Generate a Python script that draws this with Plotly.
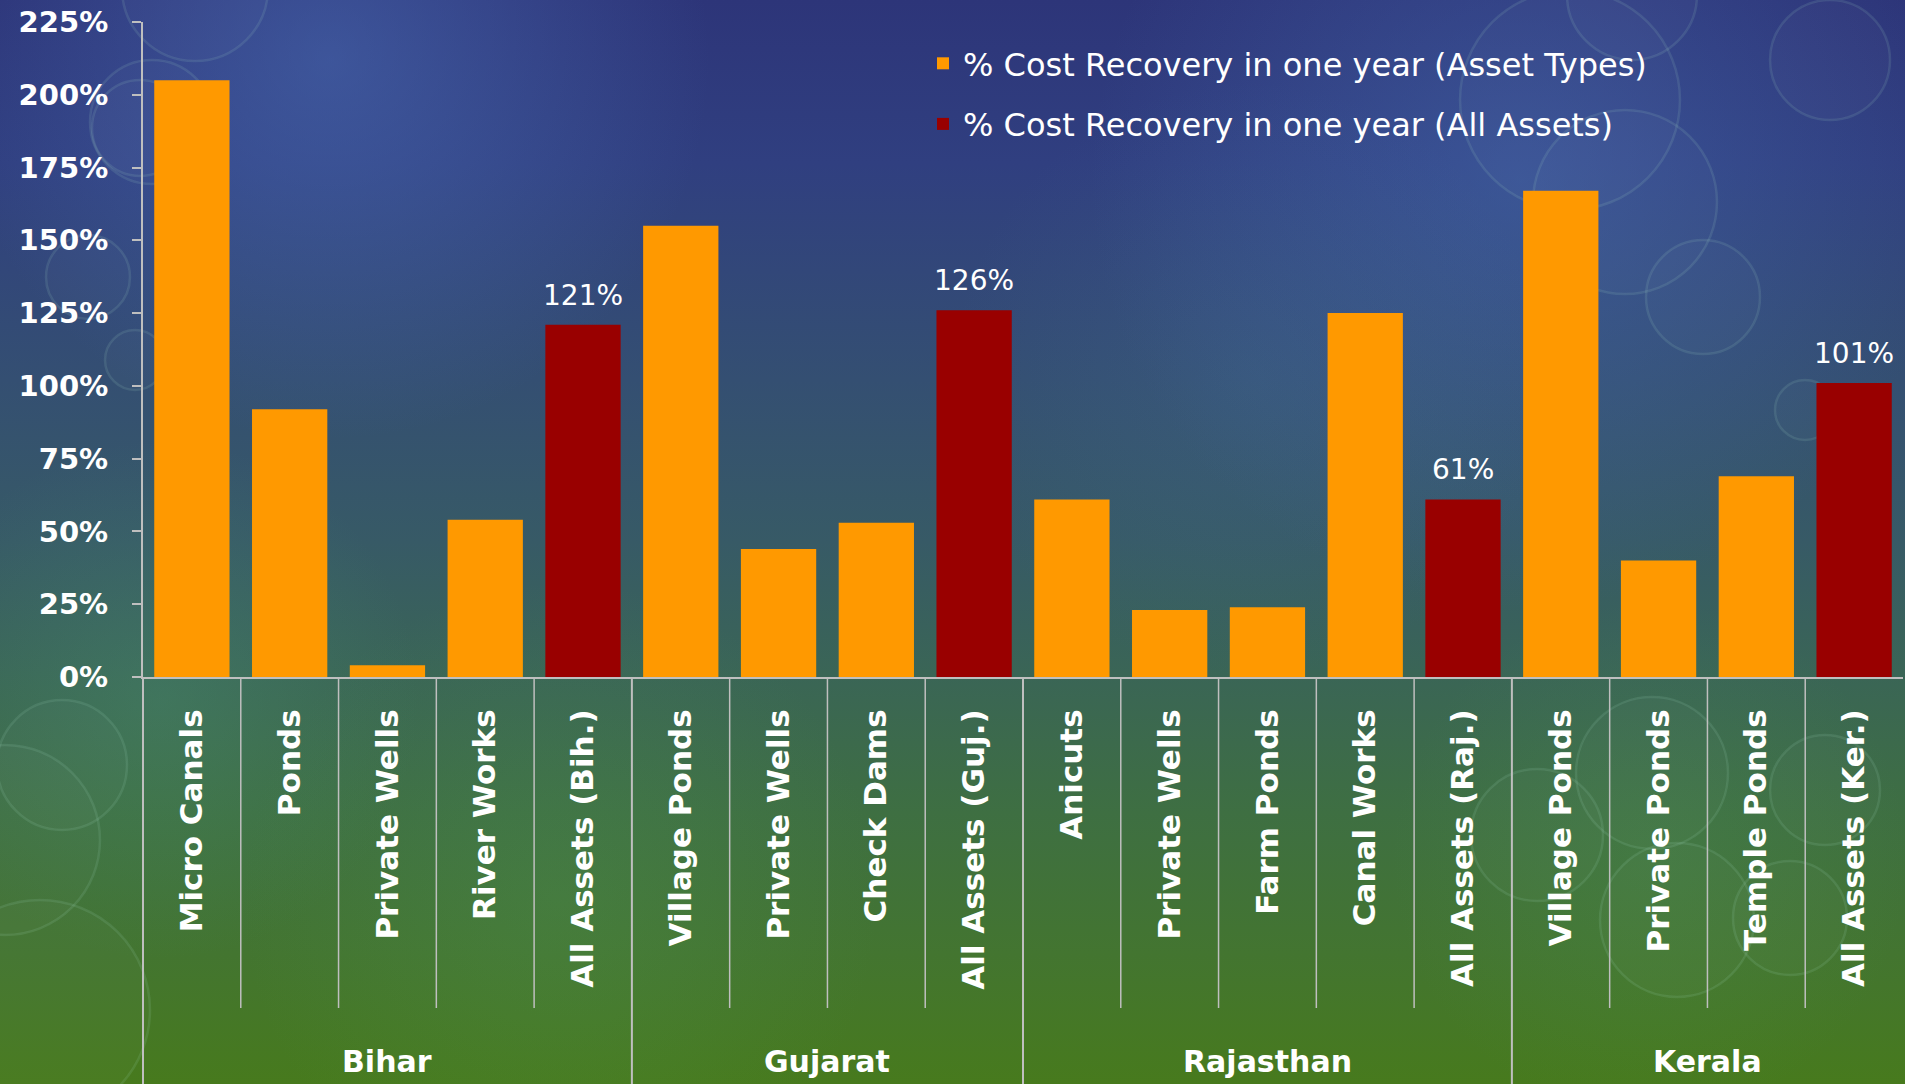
import base64
import plotly.graph_objects as go

# ---- data -------------------------------------------------------------
asset_labels = [
    "Micro Canals", "Ponds", "Private Wells", "River Works", "All Assets (Bih.)",
    "Village Ponds", "Private Wells", "Check Dams", "All Assets (Guj.)",
    "Anicuts", "Private Wells", "Farm Ponds", "Canal Works", "All Assets (Raj.)",
    "Village Ponds", "Private Ponds", "Temple Ponds", "All Assets (Ker.)",
]
state_names = ["Bihar", "Gujarat", "Rajasthan", "Kerala"]
state_sizes = [5, 4, 5, 4]
recovery_pct = [205, 92, 4, 54, 121, 155, 44, 53, 126, 61, 23, 24, 125, 61, 167, 40, 69, 101]
y_ticks = [0, 25, 50, 75, 100, 125, 150, 175, 200, 225]

series_asset = "% Cost Recovery in one year (Asset Types)"
series_all = "% Cost Recovery in one year (All Assets)"

# ---- geometry ---------------------------------------------------------
W, H = 1905, 1084
ML, MR, MT, MB = 143, 2, 22, 407
PW, PH = W - ML - MR, H - MT - MB

ORANGE = "#FF9900"
DARK_RED = "#990000"
AXIS = "#BFBFBF"
FONT = "DejaVu Sans"

idx = list(range(len(asset_labels)))
is_all = [lab.startswith("All Assets") for lab in asset_labels]
x_asset = [i for i in idx if not is_all[i]]
y_asset = [recovery_pct[i] for i in x_asset]
x_all = [i for i in idx if is_all[i]]
y_all = [recovery_pct[i] for i in x_all]

x_min, x_max = -0.5, len(asset_labels) - 0.5


def px_to_paper_y(py):
    return 1 - (py - MT) / PH


def x_to_paper(xv):
    return (xv - x_min) / (x_max - x_min)


# ---- background artwork (gradient, glows, soft rings) -----------------
rings = [
    (195, -12, 73), (140, 128, 48), (152, 122, 62), (88, 277, 42), (135, 360, 30),
    (62, 765, 65), (5, 840, 95), (40, 1010, 110),
    (1632, -5, 65), (1570, 100, 110), (1625, 202, 92), (1703, 297, 57),
    (1830, 60, 60), (1805, 410, 30),
    (1652, 773, 76), (1677, 920, 77), (1537, 835, 66), (1790, 918, 57), (1825, 790, 55),
]
ring_svg = "".join(
    f'<circle cx="{cx}" cy="{cy}" r="{r}" fill="rgba(255,255,255,0.02)" '
    f'stroke="rgba(170,225,200,0.13)" stroke-width="2.5"/>'
    for cx, cy, r in rings
)
glows = [
    ("g1", 330, 60, 380, "#5078c0", 0.45),
    ("g2", 1520, 180, 430, "#4a74b8", 0.40),
    ("g3", 1250, 380, 300, "#4a7aa0", 0.18),
    ("g4", 160, 700, 260, "#4e9a78", 0.28),
    ("g5", 560, 900, 320, "#55a060", 0.20),
    ("g6", 1650, 860, 260, "#55a060", 0.18),
]
glow_defs = "".join(
    f'<radialGradient id="{gid}" cx="{cx}" cy="{cy}" r="{r}" gradientUnits="userSpaceOnUse">'
    f'<stop offset="0" stop-color="{c}" stop-opacity="{o}"/>'
    f'<stop offset="1" stop-color="{c}" stop-opacity="0"/></radialGradient>'
    for gid, cx, cy, r, c, o in glows
)
glow_rects = "".join(
    f'<rect x="0" y="0" width="{W}" height="{H}" fill="url(#{g[0]})"/>' for g in glows
)
svg = (
    f'<svg xmlns="http://www.w3.org/2000/svg" width="{W}" height="{H}" '
    f'viewBox="0 0 {W} {H}" preserveAspectRatio="none"><defs>'
    '<linearGradient id="bg" x1="0" y1="0" x2="0" y2="1">'
    '<stop offset="0" stop-color="#2d3579"/>'
    '<stop offset="0.15" stop-color="#303f80"/>'
    '<stop offset="0.35" stop-color="#344f72"/>'
    '<stop offset="0.5" stop-color="#375a66"/>'
    '<stop offset="0.62" stop-color="#3a6556"/>'
    '<stop offset="0.75" stop-color="#3e6f42"/>'
    '<stop offset="0.88" stop-color="#437530"/>'
    '<stop offset="1" stop-color="#477a1d"/>'
    '</linearGradient>' + glow_defs + '</defs>'
    f'<rect x="0" y="0" width="{W}" height="{H}" fill="url(#bg)"/>'
    + glow_rects + ring_svg + '</svg>'
)
bg_src = "data:image/svg+xml;base64," + base64.b64encode(svg.encode()).decode()

# ---- figure -----------------------------------------------------------
fig = go.Figure()
fig.add_trace(go.Bar(
    x=x_asset, y=y_asset, name=series_asset, marker_color=ORANGE,
    marker_line_width=0, width=0.77, legendgroup="a",
))
fig.add_trace(go.Bar(
    x=x_all, y=y_all, name=series_all, marker_color=DARK_RED,
    marker_line_width=0, width=0.77, legendgroup="b",
))

# value labels on the "All Assets" bars
for xv, yv in zip(x_all, y_all):
    fig.add_annotation(
        x=xv, y=yv, text=f"{yv}%", showarrow=False, yanchor="bottom",
        yshift=11, font=dict(family=FONT, size=28, color="white"),
    )

# divider lines below the category axis
inner_bottom = px_to_paper_y(1008)
fig_bottom = px_to_paper_y(H)
group_edges = [-0.5]
for n in state_sizes:
    group_edges.append(group_edges[-1] + n)
for b in [i + 0.5 for i in idx[:-1]]:
    if b in group_edges:
        continue
    fig.add_shape(type="line", xref="paper", yref="paper",
                  x0=x_to_paper(b), x1=x_to_paper(b), y0=0, y1=inner_bottom,
                  line=dict(color=AXIS, width=1.5), layer="above")
for b in group_edges[:-1]:
    fig.add_shape(type="line", xref="paper", yref="paper",
                  x0=x_to_paper(b), x1=x_to_paper(b), y0=0, y1=fig_bottom,
                  line=dict(color=AXIS, width=2), layer="above")

# state group labels
for k, name in enumerate(state_names):
    centre = (group_edges[k] + group_edges[k + 1]) / 2
    fig.add_annotation(
        x=centre, xref="x", y=px_to_paper_y(1061), yref="paper",
        text=f"<b>{name}</b>", showarrow=False, yanchor="middle",
        font=dict(family=FONT, size=30, color="white"),
    )

fig.add_layout_image(dict(
    source=bg_src, xref="paper", yref="paper",
    x=-ML / PW, y=1 + MT / PH, sizex=W / PW, sizey=H / PH,
    xanchor="left", yanchor="top", sizing="stretch", layer="below",
))

fig.update_layout(
    width=W, height=H,
    margin=dict(l=ML, r=MR, t=MT, b=MB, pad=0),
    paper_bgcolor="#365a60", plot_bgcolor="rgba(0,0,0,0)",
    barmode="overlay", bargap=0.23,
    font=dict(family=FONT, color="white"),
    showlegend=True,
    legend=dict(
        x=(923 - ML) / PW, y=px_to_paper_y(36),
        xanchor="left", yanchor="top",
        bgcolor="rgba(0,0,0,0)", borderwidth=0,
        font=dict(family=FONT, size=32, color="white"),
        traceorder="grouped", tracegroupgap=16,
    ),
    xaxis=dict(
        range=[x_min, x_max], tickmode="array", tickvals=idx, ticktext=asset_labels,
        tickangle=-90, ticks="", showgrid=False, zeroline=False,
        showline=True, linecolor=AXIS, linewidth=2,
        tickfont=dict(family=FONT, size=31, color="white", weight="bold"),
        ticklabelstandoff=18, automargin=False,
    ),
    yaxis=dict(
        range=[0, 225], tickmode="array", tickvals=y_ticks,
        ticktext=[f"{t}%" for t in y_ticks],
        ticks="outside", ticklen=9, tickwidth=2, tickcolor=AXIS,
        showgrid=False, zeroline=False, showline=True, linecolor=AXIS, linewidth=2,
        tickfont=dict(family=FONT, size=29, color="white", weight="bold"),
        ticklabelstandoff=18, automargin=False,
    ),
)

fig.write_html("out.html")
